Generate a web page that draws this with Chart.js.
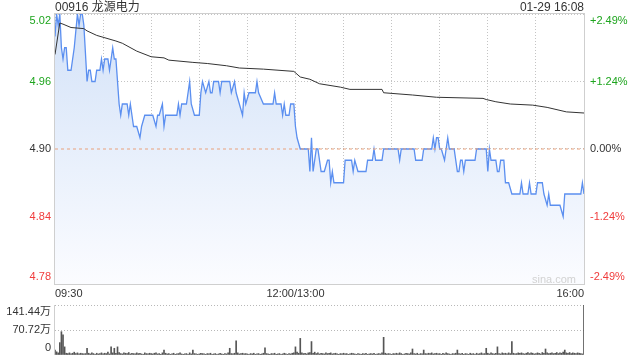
<!DOCTYPE html>
<html>
<head>
<meta charset="utf-8">
<script src="https://cdn.jsdelivr.net/npm/chart.js@4/dist/chart.umd.min.js"></script>
<style>
  body { margin: 0; background: #fff; }
  #wrap { position: relative; width: 640px; height: 360px; font-family: "Liberation Sans", Arial, "Noto Sans CJK SC", sans-serif; }
  canvas { position: absolute; left: 0; }
  #priceChart { top: 0; }
  #volChart { top: 300px; }
  .txt { position: absolute; font-size: 12px; color: #333; line-height: 14px; white-space: nowrap; }
  #title { left: 55px; top: 0; }
  #stamp { right: 56px; top: 0; }
  #mark { left: 532px; top: 272px; font-size: 11px; color: #d2d2d2; }
</style>
</head>
<body>
<div id="wrap">
  <canvas id="priceChart" width="640" height="300"></canvas>
  <canvas id="volChart" width="640" height="60"></canvas>
  <div class="txt" id="title">00916 龙源电力</div>
  <div class="txt" id="stamp">01-29 16:08</div>
  <div class="txt" id="mark">sina.com</div>
</div>
<script>
// minutes from 09:30 (lunch break removed), 0..330
const priceMinutes = [0,1,2,3,4,5,6,7,8,10,12,14,15,16,17,18,20,21,22,23,25,26,28,29,30,31,33,34,36,37,38,40,41,42,45,46,47,49,51,53,54,56,61,63,64,65,67,68,69,76,77,78,79,82,84,85,87,90,91,92,94,96,97,98,99,102,103,104,109,110,112,113,115,117,118,119,121,125,126,127,130,136,137,138,141,142,143,144,146,147,149,150,151,153,158,159,160,161,163,164,166,168,170,171,172,173,174,180,181,185,186,187,189,194,195,198,199,200,204,205,214,215,216,224,225,229,230,235,236,237,238,239,240,241,243,244,245,246,249,251,252,253,254,255,256,262,263,269,270,271,272,275,276,277,278,280,281,283,285,290,291,292,295,296,297,300,301,304,305,307,308,309,315,317,318,328,329,330];
const prices = [5.00,5.02,5.01,5.02,4.99,4.98,4.99,4.99,4.97,4.97,4.99,5.02,5.01,5.02,5.02,5.01,4.96,4.97,4.97,4.96,4.96,4.97,4.97,4.98,4.97,4.98,4.98,4.97,4.99,4.98,4.98,4.94,4.93,4.94,4.94,4.93,4.94,4.92,4.92,4.91,4.92,4.93,4.93,4.92,4.93,4.93,4.94,4.92,4.93,4.93,4.94,4.93,4.94,4.94,4.96,4.94,4.93,4.93,4.95,4.96,4.95,4.96,4.95,4.95,4.96,4.96,4.95,4.96,4.96,4.95,4.96,4.95,4.94,4.93,4.95,4.94,4.95,4.95,4.96,4.95,4.94,4.94,4.95,4.94,4.94,4.93,4.94,4.93,4.93,4.94,4.94,4.92,4.91,4.90,4.90,4.88,4.91,4.88,4.90,4.90,4.88,4.88,4.89,4.89,4.87,4.88,4.87,4.87,4.89,4.89,4.88,4.89,4.88,4.88,4.89,4.89,4.90,4.89,4.89,4.90,4.90,4.89,4.90,4.90,4.89,4.89,4.90,4.90,4.91,4.90,4.91,4.91,4.90,4.90,4.89,4.90,4.91,4.90,4.90,4.88,4.88,4.89,4.89,4.88,4.89,4.89,4.90,4.90,4.88,4.90,4.89,4.89,4.88,4.88,4.89,4.89,4.87,4.87,4.86,4.86,4.87,4.86,4.86,4.87,4.86,4.86,4.87,4.87,4.86,4.85,4.86,4.85,4.85,4.84,4.86,4.86,4.87,4.86];

const avgMinutes = [0,3,5,10,18,20,26,38,42,51,60,68,71,86,95,107,115,130,149,153,159,165,178,184,204,205,223,238,267,269,275,284,298,307,319,330];
const avgPrices = [4.984,5.012,5.011,5.008,5.007,5.005,5.001,4.996,4.994,4.987,4.982,4.981,4.979,4.977,4.976,4.974,4.972,4.971,4.969,4.964,4.962,4.958,4.955,4.953,4.953,4.950,4.948,4.946,4.945,4.944,4.942,4.940,4.939,4.937,4.933,4.932];

const prevClose = 4.90;

// volume per minute, in 万
const volumes = [
  14,9,6,35,66,57,23,5,4,6, 3,5,8,4,6,3,5,4,3,4, 19,5,3,6,4,2,5,3,4,6,
  3,5,4,8,3,23,6,19,5,23, 7,4,3,6,5,4,7,3,5,4, 3,6,4,5,3,2,6,4,3,5,
  4,3,5,6,3,4,2,6,14,5, 3,4,2,3,5,2,3,4,6,3, 2,3,4,2,6,3,14,4,3,2,
  3,5,4,3,2,4,3,5,2,3, 4,2,3,5,3,2,4,3,6,19, 4,3,5,40,6,3,4,5,3,4,
  3,2,4,3,5,2,3,4,2,3, 5,20,4,3,2,4,3,5,2,3, 4,2,3,5,3,2,4,3,5,6,
  23,8,5,47,6,4,5,3,6,7, 38,5,8,4,6,3,5,4,3,6, 4,5,6,3,4,5,3,2,4,3,
  5,3,4,2,3,5,4,3,2,4, 3,2,4,3,5,2,3,4,3,5, 2,3,4,3,6,50,5,3,4,3,
  2,4,3,5,3,6,4,2,3,5, 4,3,6,17,4,3,5,2,4,3, 14,4,3,5,4,6,3,4,5,3,
  4,2,5,3,6,4,3,2,4,3, 5,14,4,3,5,2,4,3,2,5, 3,4,2,5,3,4,6,3,4,19,
  5,3,6,4,3,5,23,4,3,6, 4,5,3,6,4,38,5,3,4,6, 5,6,4,3,5,7,4,6,5,3,
  4,6,5,3,7,5,17,6,4,5, 6,4,5,7,4,6,5,8,14,6, 5,7,4,6,5,4,6,5,4,3,
  141.44
];

const priceTicks = [4.78, 4.84, 4.90, 4.96, 5.02];
const priceLabels = ['4.78', '4.84', '4.90', '4.96', '5.02'];
const pctLabels = ['-2.49%', '-1.24%', '0.00%', '+1.24%', '+2.49%'];
const timeTicks = [0, 150, 330];
const timeLabels = ['09:30', '12:00/13:00', '16:00'];
const volTicks = [0, 70.72, 141.44];
const volLabels = ['0', '70.72万', '141.44万'];

const GREEN = '#1ea51e', RED = '#f03c3c', DARK = '#333';
const tickColors = [RED, RED, DARK, GREEN, GREEN];
const FONT = { family: '"Liberation Sans", Arial, "Noto Sans CJK SC", sans-serif', size: 11 };

function findIdx(list, v) {
  return list.findIndex(t => Math.abs(t - v) < 1e-6);
}
// push the edge labels inside the plot, like the original
function edgeLabel(list, labels, v) {
  const i = findIdx(list, v);
  if (i < 0) return '';
  if (i === list.length - 1) return ['', labels[i]];
  if (i === 0) return [labels[i], ''];
  return labels[i];
}

const frame = {
  id: 'frame',
  beforeDatasetsDraw(chart) {
    const a = chart.chartArea, c = chart.ctx;
    c.save();
    c.strokeStyle = '#cfcfcf';
    c.lineWidth = 1;
    if (chart.canvas.id === 'priceChart') {
      c.strokeRect(Math.round(a.left) - 0.5, Math.round(a.top) - 0.5, Math.round(a.right - a.left) + 1, Math.round(a.bottom - a.top) + 1);
    } else {
      c.beginPath();
      c.moveTo(Math.round(a.left) - 0.5, a.top);
      c.lineTo(Math.round(a.left) - 0.5, a.bottom);
      c.stroke();
    }
    c.restore();
  }
};

const pricePts = priceMinutes.map((m, i) => ({ x: m, y: prices[i] }));
const avgPts = avgMinutes.map((m, i) => ({ x: m, y: avgPrices[i] }));

new Chart(document.getElementById('priceChart'), {
  type: 'line',
  data: {
    datasets: [
      {
        data: [{ x: 0, y: prevClose }, { x: 330, y: prevClose }],
        borderColor: '#e9a27c',
        borderWidth: 1,
        borderDash: [3, 3],
        pointRadius: 0,
        fill: false
      },
      {
        data: avgPts,
        borderColor: '#333',
        borderWidth: 1,
        pointRadius: 0,
        fill: false
      },
      {
        data: pricePts,
        borderColor: '#5b8ff0',
        borderWidth: 1.3,
        pointRadius: 0,
        fill: 'start',
        backgroundColor: (ctx) => {
          const a = ctx.chart.chartArea;
          if (!a) return '#e6eefb';
          const g = ctx.chart.ctx.createLinearGradient(0, a.top, 0, a.bottom);
          g.addColorStop(0, '#d3e2f8');
          g.addColorStop(1, '#fbfcff');
          return g;
        }
      }
    ]
  },
  options: {
    responsive: false,
    animation: false,
    layout: { padding: { top: 14, left: 0, right: 0, bottom: 0 } },
    plugins: { legend: { display: false }, tooltip: { enabled: false } },
    scales: {
      x: {
        type: 'linear',
        min: 0,
        max: 330,
        afterBuildTicks: (s) => { s.ticks = [0, 30, 60, 90, 120, 150, 180, 210, 240, 270, 300, 330].map(v => ({ value: v })); },
        afterFit: (s) => { s.height = 16; s.paddingLeft = 0; s.paddingRight = 0; },
        grid: { color: '#c4c4c4', drawTicks: false },
        border: { display: false, dash: [1, 2] },
        ticks: {
          autoSkip: false,
          maxRotation: 0,
          align: 'inner',
          padding: 3,
          color: DARK,
          font: FONT,
          callback: (v) => { const i = findIdx(timeTicks, v); return i < 0 ? '' : timeLabels[i]; }
        }
      },
      y: {
        position: 'left',
        min: 4.78,
        max: 5.02,
        afterBuildTicks: (s) => { s.ticks = priceTicks.map(v => ({ value: v })); },
        afterFit: (s) => { s.width = 55; s.paddingTop = 0; s.paddingBottom = 0; },
        grid: { color: '#c4c4c4', drawTicks: false },
        border: { display: false, dash: [1, 2] },
        ticks: {
          autoSkip: false,
          padding: 4,
          font: FONT,
          color: (ctx) => tickColors[findIdx(priceTicks, ctx.tick.value)] || DARK,
          callback: (v) => edgeLabel(priceTicks, priceLabels, v)
        }
      },
      yPct: {
        position: 'right',
        min: 4.78,
        max: 5.02,
        afterBuildTicks: (s) => { s.ticks = priceTicks.map(v => ({ value: v })); },
        afterFit: (s) => { s.width = 56; s.paddingTop = 0; s.paddingBottom = 0; },
        grid: { drawOnChartArea: false, drawTicks: false },
        border: { display: false },
        ticks: {
          autoSkip: false,
          padding: 6,
          font: FONT,
          color: (ctx) => tickColors[findIdx(priceTicks, ctx.tick.value)] || DARK,
          callback: (v) => edgeLabel(priceTicks, pctLabels, v)
        }
      }
    }
  },
  plugins: [frame]
});

new Chart(document.getElementById('volChart'), {
  type: 'bar',
  data: {
    datasets: [{
      data: volumes.map((v, i) => ({ x: i, y: v })),
      backgroundColor: '#555',
      barThickness: 1
    }]
  },
  options: {
    responsive: false,
    animation: false,
    layout: { padding: { top: 5, right: 56, bottom: 5, left: 0 } },
    plugins: { legend: { display: false }, tooltip: { enabled: false } },
    scales: {
      x: {
        type: 'linear',
        min: 0,
        max: 330,
        offset: false,
        display: false
      },
      y: {
        min: 0,
        max: 141.44,
        afterBuildTicks: (s) => { s.ticks = volTicks.map(v => ({ value: v })); },
        afterFit: (s) => { s.width = 55; s.paddingTop = 0; s.paddingBottom = 0; },
        grid: { color: (ctx) => ctx.tick && ctx.tick.value === 0 ? 'rgba(0,0,0,0)' : '#b8b8b8', drawTicks: false },
        border: { display: false, dash: [1, 2] },
        ticks: {
          autoSkip: false,
          padding: 4,
          font: FONT,
          color: DARK,
          callback: (v) => edgeLabel(volTicks, volLabels, v)
        }
      }
    }
  },
  plugins: [frame]
});
</script>
</body>
</html>
